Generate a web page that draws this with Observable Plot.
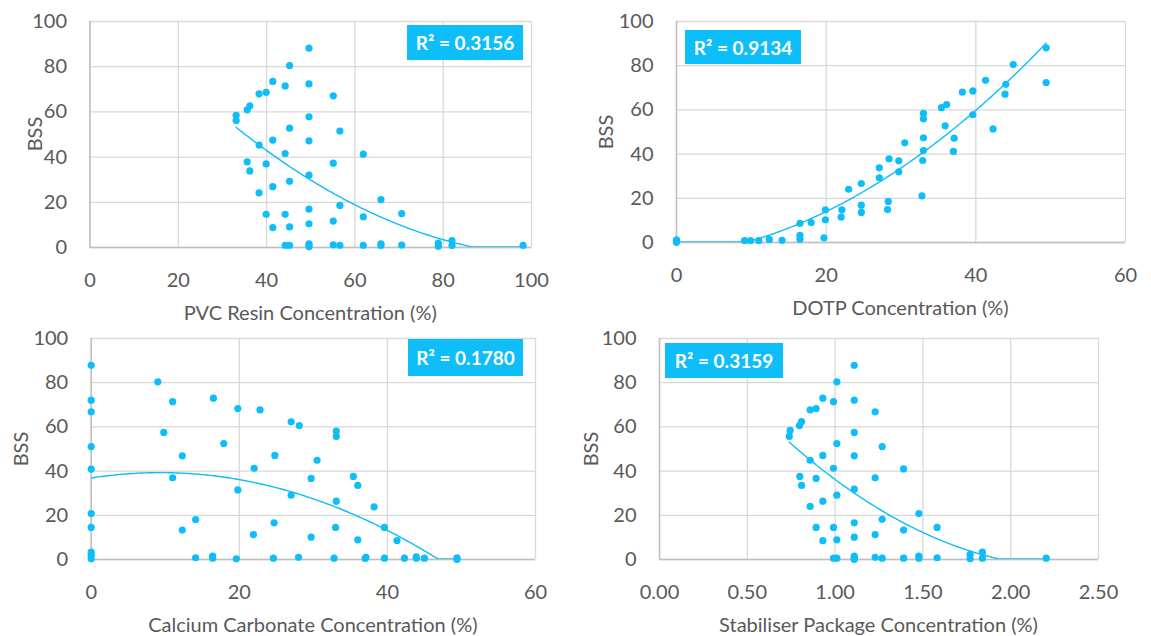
<!DOCTYPE html>
<html>
<head>
<meta charset="utf-8">
<script src="https://cdn.jsdelivr.net/npm/d3@7"></script>
<script src="https://cdn.jsdelivr.net/npm/@observablehq/plot@0.6"></script>
<style>
  html, body { margin: 0; padding: 0; background: #fff; }
  #wrap { position: relative; width: 1151px; height: 636px; overflow: hidden; font-family: Lato, "Open Sans", sans-serif; color: #595959; }
  .panel { position: absolute; }
  .xtitle { position: absolute; font-size: 20px; transform: translate(-50%, -50%); white-space: nowrap; }
  .ytitle { position: absolute; font-size: 20px; transform: translate(-50%, -50%) rotate(-90deg); white-space: nowrap; }
  .r2 { position: absolute; background: #0DBEF8; color: #fff; font-weight: bold; font-size: 19px; display: flex; align-items: center; justify-content: center; white-space: nowrap; }
</style>
</head>
<body>
<div id="wrap"></div>
<script>
// ---- Data ----
const bssTicks = [0, 20, 40, 60, 80, 100];

const pvcTicks = [0, 20, 40, 60, 80, 100];
const pvcX = [49.6,45.2,41.4,44.2,49.6,55.1,38.3,39.9,36.2,35.6,33.1,33.1,49.6,45.2,56.6,41.4,49.6,38.3,44.2,61.9,35.6,39.9,55.1,36.2,49.6,45.2,38.3,41.4,65.9,56.6,39.9,44.2,49.6,70.6,61.9,41.4,45.2,49.6,55.1,
  44.2,45.2,49.6,49.6,49.6,55.1,56.6,61.9,65.9,65.9,70.6,78.9,78.9,82.0,82.0,98.1];
const pvcBSS = [88.2,80.5,73.5,71.5,72.4,67.1,68.0,68.7,62.7,60.9,58.5,56.2,57.8,52.8,51.5,47.5,47.2,45.3,41.6,41.3,37.9,37.0,37.3,33.9,32.0,29.3,24.2,26.9,21.2,18.6,14.7,14.7,17.0,15.0,13.6,8.8,9.1,10.5,11.7,
  1.0,1.0,1.6,0.4,0.9,1.2,1.0,1.0,1.6,0.9,1.1,1.9,0.6,3.1,0.9,0.9];

const dotpTicks = [0, 20, 40, 60];
const dotpX = [0,0,9.1,9.9,11.0,12.4,14.1,16.5,16.5,16.5,18.0,19.9,19.9,19.7,22.1,22.0,23.0,24.7,24.7,24.7,27.1,27.1,28.4,29.7,29.7,28.3,28.2,30.5,33.0,33.0,33.0,33.0,32.9,32.8,35.4,36.1,35.9,37.1,37.0,38.2,39.6,39.6,41.3,42.3,44.0,43.9,45.0,49.4,49.4];
const dotpBSS = [1.2,0.1,0.9,0.9,0.9,1.4,1.0,3.2,1.5,8.7,9.0,14.8,10.3,2.1,14.8,11.5,24.1,26.7,16.9,13.6,33.8,29.3,37.9,37.0,32.0,18.6,14.9,45.1,58.4,56.0,47.4,41.6,37.1,21.1,61.0,62.4,52.8,47.2,41.2,68.0,68.6,57.8,73.4,51.4,71.6,67.1,80.5,88.1,72.4];

const caco3Ticks = [0, 20, 40, 60];
const caco3X = [0,9.0,0,0,11.0,16.5,19.8,22.8,27.0,28.1,9.8,17.9,0,12.3,24.8,0,22.0,11.0,19.8,27.0,0,0,14.1,12.3,24.7,21.9,0,0,0,14.1,16.4,16.4,19.6,24.6,28.0,
  33.1,33.1,30.5,29.7,35.4,36.0,33.1,38.2,39.6,33.0,29.7,36.0,41.3,32.8,37.1,37.0,39.6,42.3,43.9,43.9,45.0,49.4,49.4];
const caco3BSS = [87.9,80.4,72.1,66.8,71.4,73.0,68.3,67.7,62.3,60.6,57.5,52.5,51.1,46.9,47.1,40.9,41.3,37.0,31.5,29.1,20.8,14.5,18.1,13.3,16.6,11.3,3.3,1.8,0.3,0.8,1.5,0.6,0.3,0.6,1.0,
  58.1,55.7,44.9,36.7,37.6,33.5,26.4,23.8,14.5,14.5,10.1,8.9,8.6,0.6,1.0,0.5,0.6,0.6,1.2,0.6,0.6,0.8,0.0];

const stabTicks = [0, 0.5, 1, 1.5, 2, 2.5];
const stabX = [1.109,1.010,0.930,0.991,1.109,0.858,0.892,1.228,0.809,0.797,0.744,0.739,1.109,1.268,1.010,0.930,1.109,0.858,0.991,1.390,0.799,0.892,1.228,0.809,1.010,1.109,0.930,0.858,1.477,1.268,0.892,0.991,1.109,1.390,0.930,1.010,1.109,1.228,
  0.991,1.010,1.109,1.109,1.109,1.228,1.268,1.390,1.477,1.477,1.581,1.581,1.769,1.769,1.839,1.839,2.202];
const stabBSS = [87.9,80.4,73.0,71.4,72.1,67.7,68.3,66.8,62.4,60.6,58.4,55.7,57.5,51.1,52.5,47.1,46.9,44.9,41.3,41.0,37.6,36.7,37.0,33.5,29.1,31.8,26.4,24.0,20.8,18.2,14.5,14.5,16.6,13.3,8.5,8.9,10.1,11.3,
  0.6,0.6,1.5,0.6,0.0,1.0,0.6,0.6,1.5,0.6,14.5,0.8,2.3,0.3,3.3,0.6,0.6];

const r2Labels = ["R\u00B2 = 0.3156", "R\u00B2 = 0.9134", "R\u00B2 = 0.1780", "R\u00B2 = 0.3159"];
const xTitles = ["PVC Resin Concentration (%)", "DOTP Concentration (%)", "Calcium Carbonate Concentration (%)", "Stabiliser Package Concentration (%)"];
const yTitle = "BSS";

// ---- Helpers ----
const COLOR = "#0DBEF8";

// order-2 polynomial least squares (like the spreadsheet trendline)
function quadFit(xs, ys) {
  const n = xs.length;
  let s = [0,0,0,0,0], t = [0,0,0];
  for (let i = 0; i < n; i++) {
    const x = xs[i], y = ys[i];
    let p = 1;
    for (let k = 0; k < 5; k++) { s[k] += p; if (k < 3) t[k] += p * y; p *= x; }
  }
  const A = [[s[0], s[1], s[2], t[0]], [s[1], s[2], s[3], t[1]], [s[2], s[3], s[4], t[2]]];
  for (let c = 0; c < 3; c++) {
    let piv = c;
    for (let r = c + 1; r < 3; r++) if (Math.abs(A[r][c]) > Math.abs(A[piv][c])) piv = r;
    [A[c], A[piv]] = [A[piv], A[c]];
    for (let r = 0; r < 3; r++) {
      if (r === c) continue;
      const f = A[r][c] / A[c][c];
      for (let k = c; k < 4; k++) A[r][k] -= f * A[c][k];
    }
  }
  return [A[0][3] / A[0][0], A[1][3] / A[1][1], A[2][3] / A[2][2]];
}

function trend(xs, ys) {
  const [a, b, c] = quadFit(xs, ys);
  const [lo, hi] = d3.extent(xs);
  return d3.range(201).map(i => {
    const x = lo + (hi - lo) * i / 200;
    return {x, y: Math.max(0.2, a + b * x + c * x * x)};
  });
}

const wrap = document.getElementById("wrap");

function addPanel(o) {
  const data = o.xs.map((x, i) => ({x, y: o.ys[i]}));
  const chart = Plot.plot({
    width: o.width, height: o.height,
    marginLeft: o.ml, marginRight: o.mr, marginTop: o.mt, marginBottom: o.mb,
    style: {fontFamily: "Lato, 'Open Sans', sans-serif", fontSize: "20px", color: "#595959", background: "transparent", overflow: "visible"},
    x: {domain: [o.xticks[0], o.xticks[o.xticks.length - 1]], ticks: o.xticks, tickFormat: o.fmt, tickSize: 0, tickPadding: 25, label: null},
    y: {domain: [0, 100], ticks: bssTicks, tickSize: 0, tickPadding: 23, label: null},
    marks: [
      Plot.ruleX(o.xticks, {stroke: "#D9D9D9", strokeWidth: 1.3}),
      Plot.ruleY(bssTicks, {stroke: "#D9D9D9", strokeWidth: 1.3}),
      Plot.ruleX([o.xticks[0]], {stroke: "#BFBFBF", strokeWidth: 1.5}),
      Plot.ruleY([0], {stroke: "#BFBFBF", strokeWidth: 1.5}),
      Plot.dot(data, {x: "x", y: "y", r: 3.6, fill: COLOR, stroke: "none"}),
      Plot.line(trend(o.xs, o.ys), {x: "x", y: "y", stroke: COLOR, strokeWidth: 1.4, clip: true})
    ]
  });
  const div = document.createElement("div");
  div.className = "panel";
  div.style.left = o.left + "px";
  div.style.top = o.top + "px";
  div.appendChild(chart);
  wrap.appendChild(div);

  const xt = document.createElement("div");
  xt.className = "xtitle";
  xt.textContent = o.xtitle;
  xt.style.left = (o.left + o.ml + (o.width - o.ml - o.mr) / 2) + "px";
  xt.style.top = (o.top + o.height - o.mb + 65) + "px";
  wrap.appendChild(xt);

  const yt = document.createElement("div");
  yt.className = "ytitle";
  yt.textContent = yTitle;
  yt.style.left = o.ytx + "px";
  yt.style.top = (o.top + o.mt + (o.height - o.mt - o.mb) / 2) + "px";
  wrap.appendChild(yt);

  const r = document.createElement("div");
  r.className = "r2";
  r.textContent = o.r2;
  r.style.left = o.box[0] + "px";
  r.style.top = o.box[1] + "px";
  r.style.width = o.box[2] + "px";
  r.style.height = o.box[3] + "px";
  wrap.appendChild(r);
}

addPanel({left: 0, top: 0, width: 575, height: 318, ml: 89.5, mr: 44, mt: 21, mb: 71,
  xs: pvcX, ys: pvcBSS, xticks: pvcTicks, fmt: d3.format("d"), xtitle: xTitles[0], r2: r2Labels[0],
  ytx: 34, box: [407, 25, 116, 35]});
addPanel({left: 575, top: 0, width: 576, height: 318, ml: 101, mr: 26, mt: 21, mb: 76,
  xs: dotpX, ys: dotpBSS, xticks: dotpTicks, fmt: d3.format("d"), xtitle: xTitles[1], r2: r2Labels[1],
  ytx: 605, box: [685, 30, 116, 34]});
addPanel({left: 0, top: 318, width: 575, height: 318, ml: 90.7, mr: 40, mt: 20, mb: 77,
  xs: caco3X, ys: caco3BSS, xticks: caco3Ticks, fmt: d3.format("d"), xtitle: xTitles[2], r2: r2Labels[2],
  ytx: 20, box: [408, 339, 115, 37]});
addPanel({left: 575, top: 318, width: 576, height: 318, ml: 84, mr: 53, mt: 20, mb: 77,
  xs: stabX, ys: stabBSS, xticks: stabTicks, fmt: d3.format(".2f"), xtitle: xTitles[3], r2: r2Labels[3],
  ytx: 590, box: [665, 343, 118, 35]});
</script>
</body>
</html>
